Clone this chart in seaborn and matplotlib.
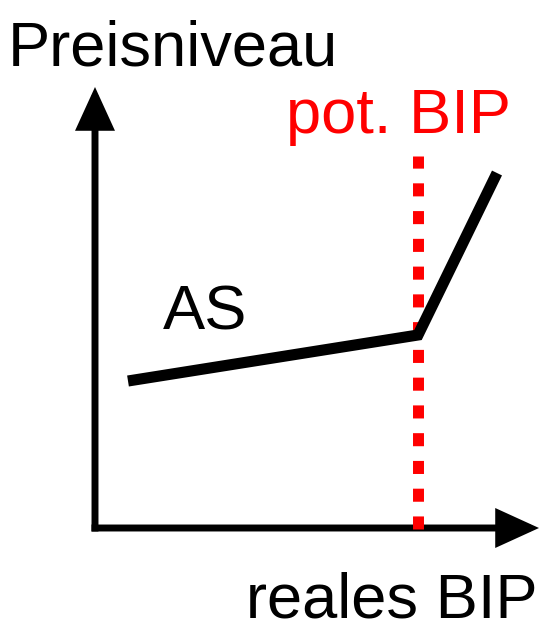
import matplotlib
matplotlib.use("Agg")
import matplotlib.pyplot as plt
import seaborn as sns
import pandas as pd
from matplotlib.patches import FancyArrowPatch

# --- data (arbitrary units, origin at axis corner) ---
as_x = [0.33, 3.23, 4.02]
as_y = [1.47, 1.93, 3.55]
pot_bip_x = 3.235
pot_bip_top = 3.72
x_axis_end = 4.44
y_axis_end = 4.41

label_y = "Preisniveau"
label_x = "reales BIP"
label_pot = "pot. BIP"
label_as = "AS"

sns.set_theme(style="white")
plt.rcParams["font.family"] = ["Liberation Sans", "DejaVu Sans"]

fig = plt.figure(figsize=(5.43, 6.30), dpi=100)
ax = fig.add_axes([0, 0, 1, 1])
ax.set_xlim(-0.95, 4.48)
ax.set_ylim(-1.02, 5.28)
ax.axis("off")

# axes arrows
for (x0, y0, x1, y1) in [(0, -0.035, 0, y_axis_end), (-0.035, 0, x_axis_end, 0)]:
    arr = FancyArrowPatch((x0, y0), (x1, y1),
                          arrowstyle="-|>,head_length=23,head_width=10.5",
                          mutation_scale=1, lw=5, color="black",
                          shrinkA=0, shrinkB=0, joinstyle="miter", capstyle="butt")
    ax.add_patch(arr)

# potential output dotted line
ax.plot([pot_bip_x, pot_bip_x], [-0.01, pot_bip_top], color="#ff0000", lw=7.9,
        dashes=(1.19, 1.34), dash_capstyle="butt", zorder=5)

# AS curve
df = pd.DataFrame({"x": as_x, "y": as_y})
sns.lineplot(data=df, x="x", y="y", sort=False, ax=ax, color="black", lw=8.0,
             zorder=6)
for ln in ax.lines:
    ln.set_solid_joinstyle("miter")
    ln.set_solid_capstyle("butt")

fs = 45.5
ax.text(-0.87, 4.63, label_y, fontsize=fs, color="black", va="baseline", ha="left")
ax.text(1.91, 3.95, label_pot, fontsize=fs, color="#ff0000", va="baseline", ha="left")
ax.text(1.51, -0.90, label_x, fontsize=fs, color="black", va="baseline", ha="left")
ax.text(0.68, 1.98, label_as, fontsize=fs, color="black", va="baseline", ha="left")

fig.savefig("out.png", dpi=100)
